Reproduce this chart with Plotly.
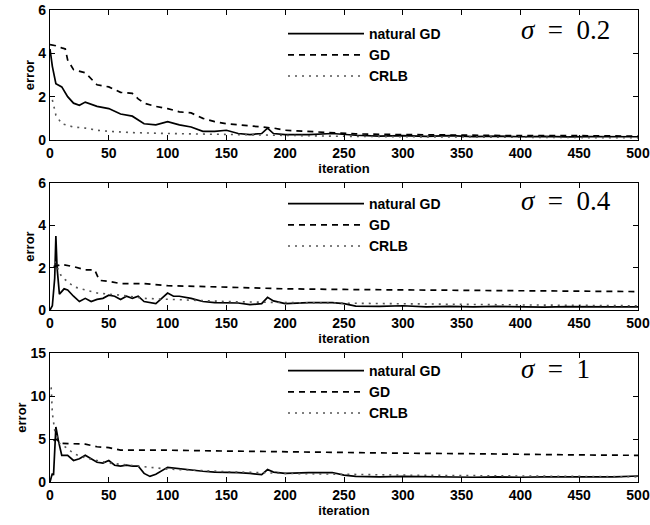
import plotly.graph_objects as go

# ---------------- data ----------------
# sigma = 0.2
p1_nat_x = [0, 2, 5, 10, 15, 20, 25, 30, 40, 50, 60, 70, 80, 90, 100, 110, 120, 130, 140, 150, 160, 170, 180, 185, 190, 200, 220, 240, 260, 280, 300, 320, 340, 360, 380, 400, 420, 440, 460, 480, 500]
p1_nat_y = [4.2, 3.4, 2.6, 2.45, 2.0, 1.7, 1.6, 1.75, 1.55, 1.45, 1.2, 1.1, 0.75, 0.7, 0.85, 0.7, 0.6, 0.4, 0.4, 0.45, 0.3, 0.25, 0.3, 0.55, 0.3, 0.25, 0.25, 0.3, 0.22, 0.18, 0.2, 0.17, 0.2, 0.16, 0.18, 0.15, 0.17, 0.14, 0.16, 0.14, 0.15]
p1_gd_x = [0, 5, 10, 13, 15, 20, 30, 40, 50, 60, 70, 75, 80, 90, 100, 110, 120, 130, 140, 150, 160, 170, 180, 190, 200, 220, 240, 260, 300, 350, 400, 450, 500]
p1_gd_y = [4.4, 4.35, 4.25, 4.2, 3.7, 3.25, 3.1, 2.55, 2.45, 2.2, 2.15, 1.9, 1.7, 1.55, 1.45, 1.3, 1.25, 1.0, 0.85, 0.75, 0.7, 0.65, 0.6, 0.55, 0.45, 0.4, 0.35, 0.28, 0.25, 0.22, 0.2, 0.2, 0.18]
p1_crlb_x = [2, 5, 10, 20, 30, 40, 50, 70, 100, 150, 200, 250, 300, 400, 500]
p1_crlb_y = [1.85, 1.15, 0.75, 0.6, 0.55, 0.45, 0.4, 0.34, 0.3, 0.25, 0.2, 0.17, 0.15, 0.12, 0.1]

# sigma = 0.4
p2_nat_x = [0, 2, 4, 5, 6, 8, 12, 15, 20, 25, 30, 35, 40, 45, 50, 55, 60, 65, 70, 75, 80, 90, 95, 100, 105, 110, 120, 130, 140, 150, 160, 170, 180, 185, 190, 200, 220, 240, 250, 260, 280, 300, 320, 340, 360, 380, 400, 420, 440, 460, 480, 500]
p2_nat_y = [0.0, 0.2, 1.5, 3.5, 2.0, 0.75, 1.0, 0.95, 0.65, 0.4, 0.55, 0.4, 0.5, 0.55, 0.7, 0.65, 0.5, 0.65, 0.55, 0.65, 0.4, 0.3, 0.55, 0.8, 0.65, 0.65, 0.55, 0.4, 0.35, 0.33, 0.33, 0.25, 0.3, 0.6, 0.43, 0.3, 0.35, 0.35, 0.3, 0.18, 0.17, 0.2, 0.15, 0.17, 0.15, 0.17, 0.15, 0.14, 0.16, 0.14, 0.15, 0.15]
p2_gd_x = [3, 10, 20, 30, 38, 40, 42, 50, 60, 80, 90, 100, 150, 200, 250, 300, 350, 400, 450, 500]
p2_gd_y = [2.05, 2.15, 2.05, 1.9, 1.9, 1.6, 1.4, 1.35, 1.25, 1.25, 1.2, 1.15, 1.08, 1.0, 0.97, 0.95, 0.93, 0.9, 0.88, 0.87]
p2_crlb_x = [4, 10, 15, 20, 30, 40, 50, 60, 80, 100, 150, 200, 300, 400, 500]
p2_crlb_y = [2.3, 1.55, 1.35, 1.1, 0.95, 0.8, 0.75, 0.7, 0.55, 0.5, 0.4, 0.35, 0.28, 0.24, 0.2]

# sigma = 1
p3_nat_x = [0, 2, 3, 5, 7, 10, 15, 20, 25, 30, 35, 40, 45, 50, 55, 60, 65, 70, 75, 80, 85, 90, 100, 110, 120, 130, 140, 150, 160, 170, 180, 185, 190, 200, 220, 240, 250, 260, 280, 300, 320, 340, 360, 380, 400, 420, 440, 460, 480, 500]
p3_nat_y = [0.0, 1.0, 0.8, 6.4, 4.9, 3.1, 3.1, 2.5, 2.7, 3.1, 2.7, 2.3, 2.2, 2.5, 1.95, 1.85, 1.95, 1.85, 1.85, 1.0, 0.65, 0.9, 1.7, 1.55, 1.35, 1.25, 1.15, 1.15, 1.1, 1.0, 0.85, 1.45, 1.15, 1.0, 1.1, 1.1, 0.8, 0.65, 0.6, 0.65, 0.6, 0.6, 0.55, 0.6, 0.55, 0.6, 0.6, 0.65, 0.6, 0.7]
p3_gd_x = [3, 5, 10, 20, 30, 40, 50, 60, 100, 150, 200, 250, 300, 350, 400, 450, 500]
p3_gd_y = [4.8, 5.0, 4.5, 4.45, 4.4, 4.1, 4.0, 3.7, 3.7, 3.6, 3.5, 3.4, 3.35, 3.3, 3.2, 3.15, 3.1]
p3_crlb_x = [1, 2, 4, 8, 15, 20, 30, 50, 100, 150, 200, 300, 400, 500]
p3_crlb_y = [11.0, 8.0, 6.0, 4.5, 3.9, 3.3, 2.8, 2.2, 1.5, 1.2, 1.0, 0.8, 0.7, 0.6]

series_names = ["natural GD", "GD", "CRLB"]
sigma_labels = ["<i>σ</i>\u2002=\u20020.2", "<i>σ</i>\u2002=\u20020.4", "<i>σ</i>\u2002=\u20021"]
x_ticks = [0, 50, 100, 150, 200, 250, 300, 350, 400, 450, 500]
y_ticks = [[0, 2, 4, 6], [0, 2, 4, 6], [0, 5, 10, 15]]
y_ranges = [[0, 6], [0, 6], [0, 15]]

panels = [
    (p1_nat_x, p1_nat_y, p1_gd_x, p1_gd_y, p1_crlb_x, p1_crlb_y),
    (p2_nat_x, p2_nat_y, p2_gd_x, p2_gd_y, p2_crlb_x, p2_crlb_y),
    (p3_nat_x, p3_nat_y, p3_gd_x, p3_gd_y, p3_crlb_x, p3_crlb_y),
]

# ---------------- figure ----------------
W, H = 650, 525
ML, MR, MT, MB = 50, 12, 10, 43
ph = H - MT - MB
pw = W - ML - MR

def yfrac(px):
    return (H - MB - px) / ph

def xfrac(px):
    return (px - ML) / pw

domains = [[yfrac(140), 1.0], [yfrac(310), yfrac(183)], [0.0, yfrac(353)]]

FONT = "Liberation Sans"
fig = go.Figure()
legend_names = ["legend", "legend2", "legend3"]
styles = [dict(color="black", width=1.7, dash="solid"),
          dict(color="black", width=1.7, dash="6px,5px"),
          dict(color="#555555", width=1.6, dash="2px,5px")]

for i, pan in enumerate(panels):
    xa = "x" if i == 0 else f"x{i+1}"
    ya = "y" if i == 0 else f"y{i+1}"
    for k in range(3):
        fig.add_trace(go.Scatter(
            x=pan[2 * k], y=pan[2 * k + 1], mode="lines", name=series_names[k],
            line=styles[k], xaxis=xa, yaxis=ya, legend=legend_names[i],
        ))

axis_common = dict(showline=True, linecolor="black", linewidth=1.3, mirror="ticks",
                   ticks="inside", ticklen=5, tickcolor="black", tickwidth=1.3, showgrid=False,
                   zeroline=False, automargin=False,
                   tickfont=dict(family=FONT, size=14, color="black", weight="bold"))

layout = dict(width=W, height=H, margin=dict(l=ML, r=MR, t=MT, b=MB, autoexpand=False),
              plot_bgcolor="white", paper_bgcolor="white", showlegend=True)

legend_tops_px = [18, 188, 355]
for i in range(3):
    xkey = "xaxis" if i == 0 else f"xaxis{i+1}"
    ykey = "yaxis" if i == 0 else f"yaxis{i+1}"
    ya = "y" if i == 0 else f"y{i+1}"
    layout[xkey] = dict(axis_common, range=[0, 500], tickvals=x_ticks, anchor=ya,
                        title=dict(text="iteration", standoff=1,
                                   font=dict(family=FONT, size=13, color="black", weight="bold")))
    layout[ykey] = dict(axis_common, range=y_ranges[i], tickvals=y_ticks[i],
                        domain=domains[i], anchor="x" if i == 0 else f"x{i+1}",
                        title=dict(text="error", standoff=0,
                                   font=dict(family=FONT, size=13, color="black", weight="bold")))
    layout[legend_names[i]] = dict(x=xfrac(283), y=yfrac(legend_tops_px[i]),
                                   xanchor="left", yanchor="top", bgcolor="rgba(0,0,0,0)",
                                   itemwidth=76, tracegroupgap=0,
                                   font=dict(family=FONT, size=14, color="black", weight="bold"))

fig.update_layout(**layout)

sigma_y_px = [30, 201, 369]
for i in range(3):
    fig.add_annotation(text=sigma_labels[i], xref="paper", yref="paper",
                       x=xfrac(519), y=yfrac(sigma_y_px[i]),
                       xanchor="left", yanchor="middle", showarrow=False,
                       font=dict(family="Liberation Serif", size=27, color="black"))

fig.write_html("out.html", config={"displayModeBar": False})

# remove the default page margin so the 650x525 figure fills the window exactly
with open("out.html", "r", encoding="utf-8") as f:
    html = f.read()
html = html.replace("<head>", "<head><style>html,body{margin:0;padding:0;overflow:hidden;}</style>", 1)
with open("out.html", "w", encoding="utf-8") as f:
    f.write(html)
